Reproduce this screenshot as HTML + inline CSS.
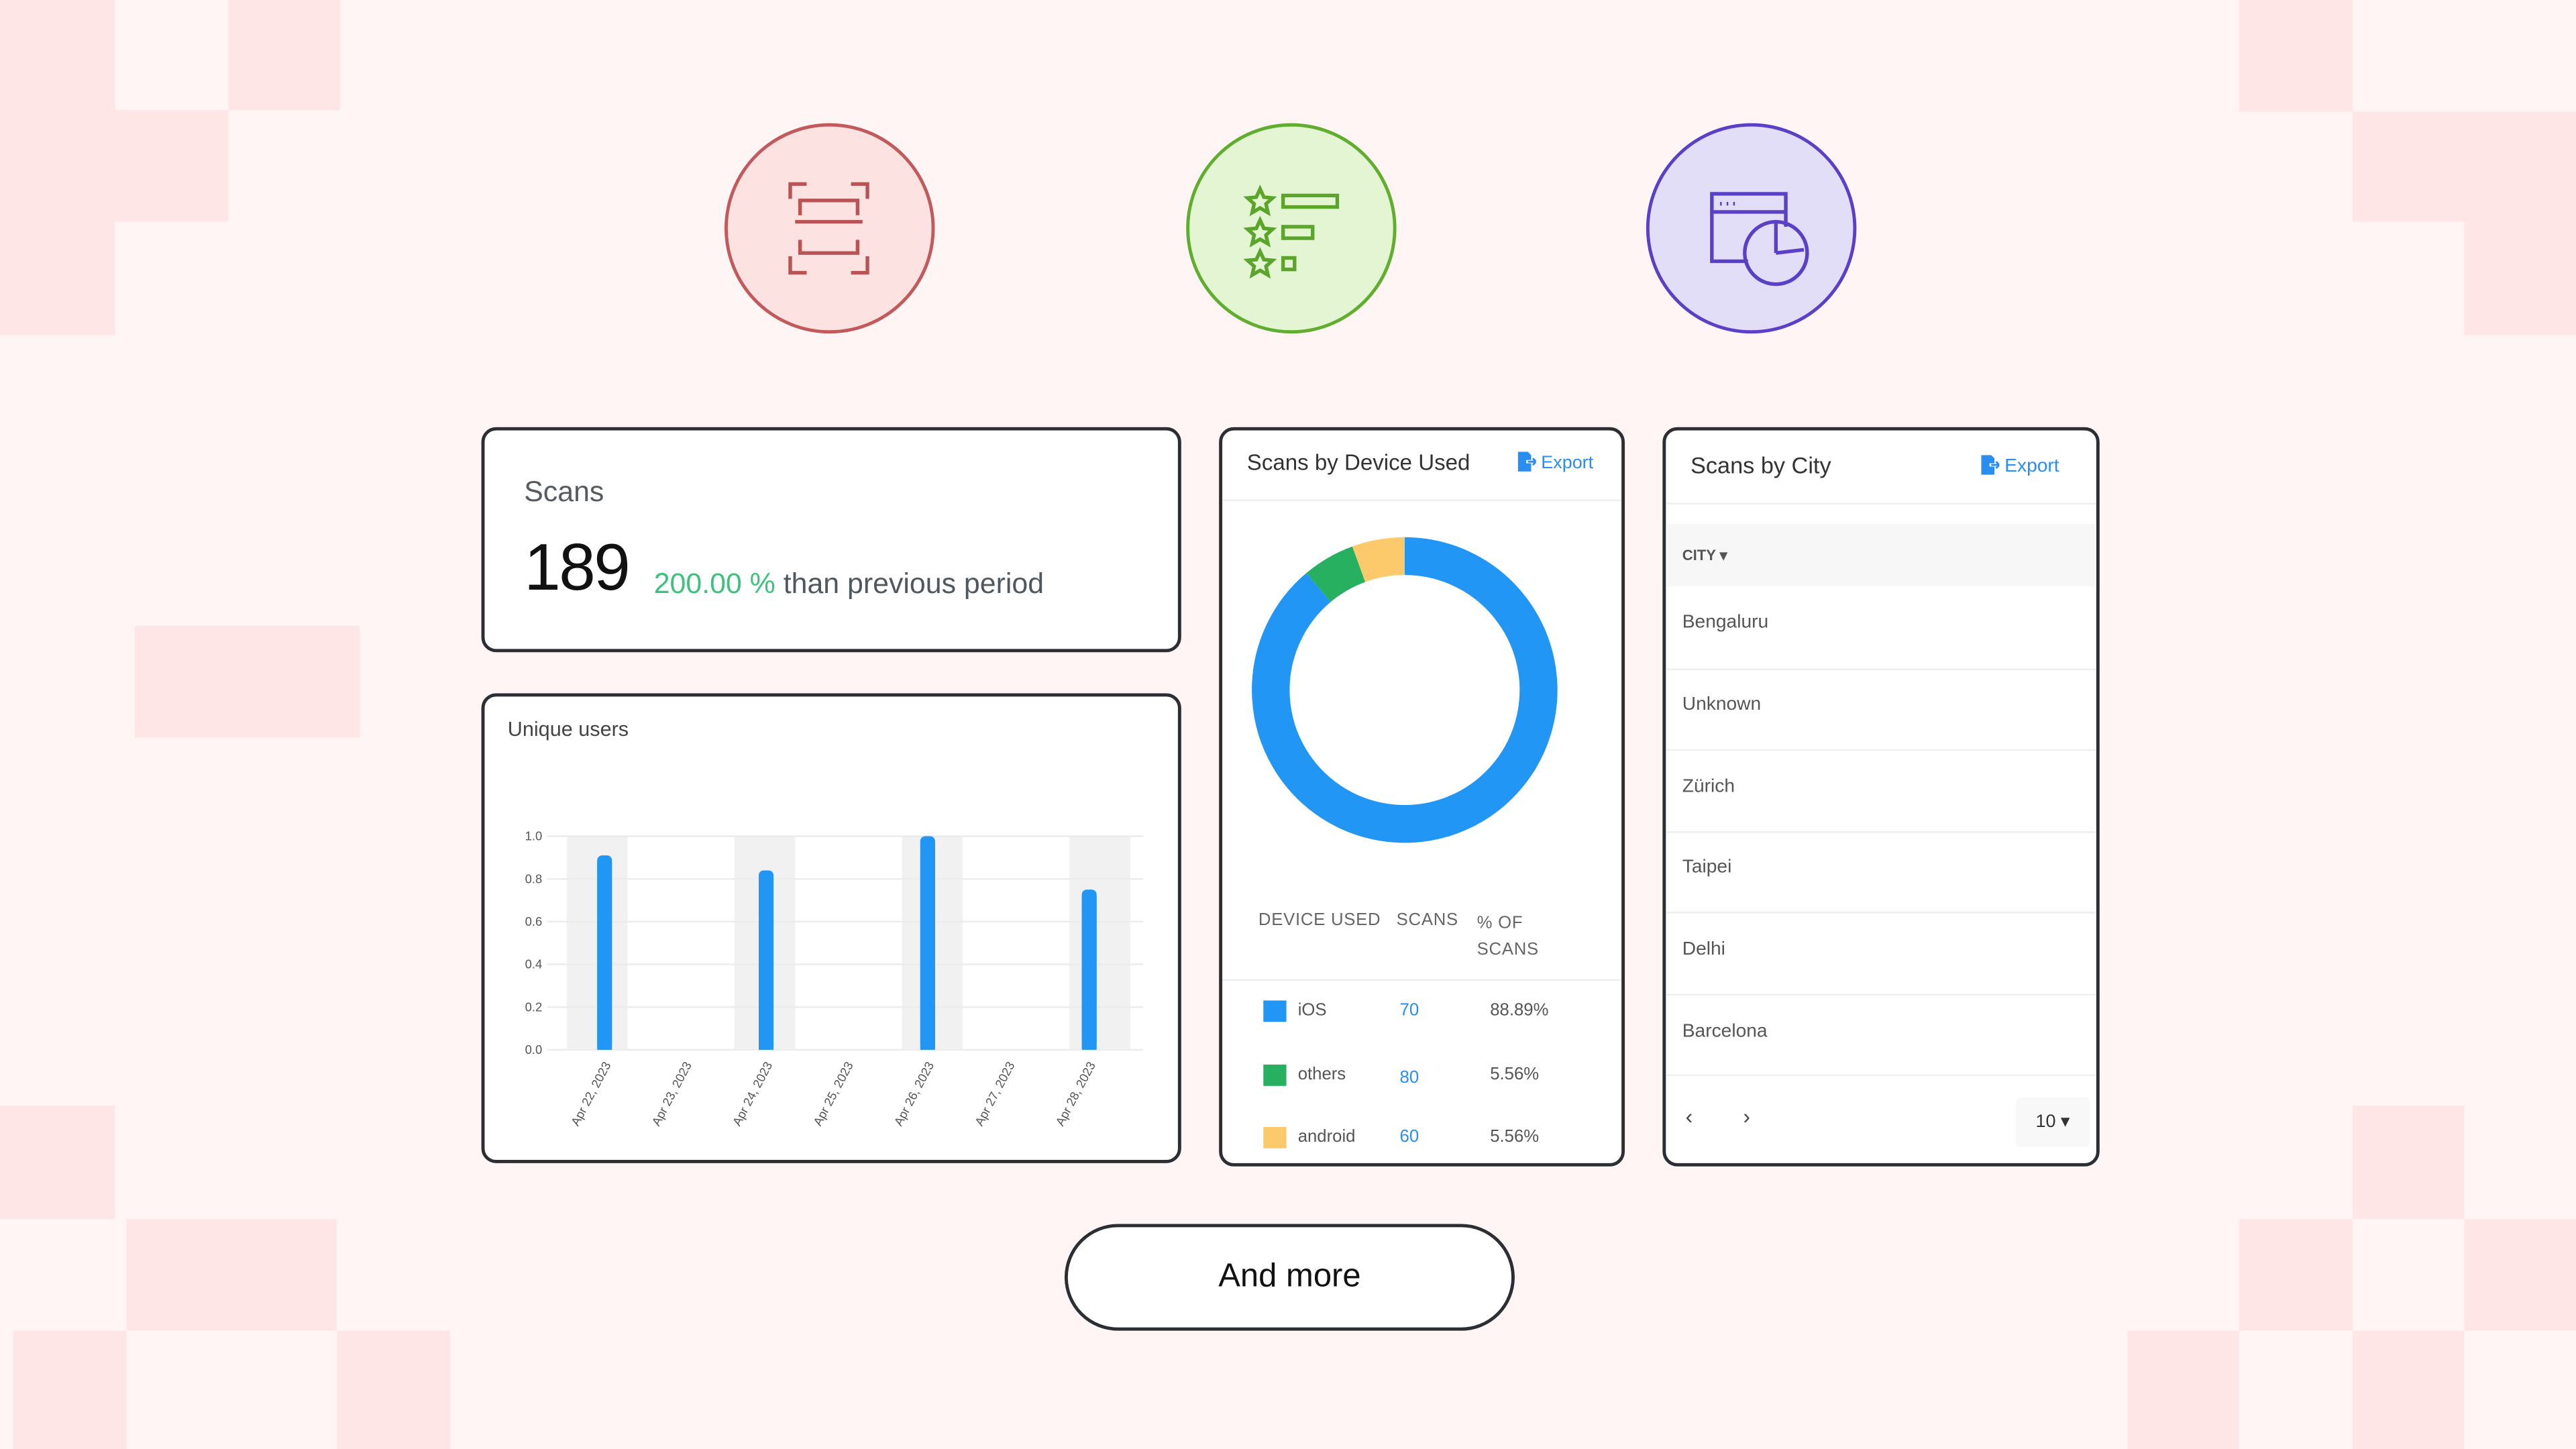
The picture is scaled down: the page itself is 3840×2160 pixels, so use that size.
<!DOCTYPE html>
<html><head><meta charset="utf-8">
<style>
html,body{margin:0;padding:0;width:3840px;height:2159px;overflow:hidden;background:#fff5f5;}
#wrap{position:absolute;left:0;top:0;width:1568px;height:882px;transform:scale(2.44898);transform-origin:0 0;font-family:"Liberation Sans",sans-serif;}
.sq{position:absolute;background:#ffe6e6;}
.card{position:absolute;background:#fff;border:2px solid #2b2f33;border-radius:9px;box-sizing:border-box;overflow:hidden;}
.abs{position:absolute;}
.circle{position:absolute;width:128px;height:128px;border-radius:50%;box-sizing:border-box;}
.city{position:absolute;left:10px;font-size:11.5px;color:#555;}
.sep{position:absolute;left:0;right:0;height:1px;background:#eee;}
</style></head><body>
<div id="wrap">
<div class="sq" style="left:0;top:0;width:70px;height:204px"></div>
<div class="sq" style="left:139px;top:0;width:68px;height:67px"></div>
<div class="sq" style="left:70px;top:67px;width:69px;height:68px"></div>
<div class="sq" style="left:82px;top:381px;width:137px;height:68px"></div>
<div class="sq" style="left:1363px;top:0;width:69px;height:68px"></div>
<div class="sq" style="left:1432px;top:68px;width:136px;height:67px"></div>
<div class="sq" style="left:1500px;top:135px;width:68px;height:69px"></div>
<div class="sq" style="left:0;top:673px;width:70px;height:69px"></div>
<div class="sq" style="left:77px;top:742px;width:128px;height:68px"></div>
<div class="sq" style="left:8px;top:810px;width:69px;height:72px"></div>
<div class="sq" style="left:205px;top:810px;width:69px;height:72px"></div>
<div class="sq" style="left:1432px;top:673px;width:68px;height:69px"></div>
<div class="sq" style="left:1363px;top:742px;width:69px;height:68px"></div>
<div class="sq" style="left:1500px;top:742px;width:68px;height:68px"></div>
<div class="sq" style="left:1295px;top:810px;width:68px;height:72px"></div>
<div class="sq" style="left:1432px;top:810px;width:68px;height:72px"></div>

<div class="circle" style="left:441px;top:75px;background:#fde2e2;border:2.5px solid #c25a5c">
<svg width="123" height="123" viewBox="0 0 123 123" style="position:absolute;left:0;top:0" fill="none" stroke="#b85456" stroke-width="2.2">
<path d="M38 44V35h10M75 35h10v9M38 79v10h10M75 89h10V79M44 54v-9h35v9M41 58h41M44 69v8h35v-8"/></svg></div>
<div class="circle" style="left:722px;top:75px;background:#e3f5d2;border:2.5px solid #5fae2e">
<svg width="123" height="123" viewBox="0 0 123 123" style="position:absolute;left:0;top:0" fill="none" stroke="#5aa52a" stroke-width="2.2">
<path d="M43 38l2.3 5 5.3.5-4 3.6 1.2 5.3-4.8-2.8-4.8 2.8 1.2-5.3-4-3.6 5.3-.5z"/>
<path d="M43 57l2.3 5 5.3.5-4 3.6 1.2 5.3-4.8-2.8-4.8 2.8 1.2-5.3-4-3.6 5.3-.5z"/>
<path d="M43 76l2.3 5 5.3.5-4 3.6 1.2 5.3-4.8-2.8-4.8 2.8 1.2-5.3-4-3.6 5.3-.5z"/>
<rect x="57" y="42" width="33" height="7"/><rect x="57" y="61" width="18" height="7"/><rect x="57" y="80" width="7" height="7"/></svg></div>
<div class="circle" style="left:1002px;top:75px;background:#e3def8;border:2.5px solid #5a3fc8">
<svg width="123" height="123" viewBox="0 0 123 123" style="position:absolute;left:0;top:0" fill="none" stroke="#5a3fc8" stroke-width="2.2">
<path d="M60 82H38V41h45v20M38 52h45"/><path d="M43 47h1M47 47h1M51 47h1"/>
<circle cx="77" cy="77" r="19"/><path d="M77 77V58M77 77l17-2"/></svg></div>

<div class="card" style="left:293px;top:260px;width:426px;height:137px">
<div class="abs" style="left:24px;top:27px;font-size:17.5px;color:#555b61">Scans</div>
<div class="abs" style="left:24px;top:62px;font-size:40px;color:#111;letter-spacing:-1px">189</div>
<div class="abs" style="left:103px;top:83px;font-size:17.5px;color:#50585f;white-space:nowrap"><span style="color:#3cc27a">200.00 %</span> than previous period</div>
</div>

<div class="card" style="left:293px;top:422px;width:426px;height:286px">
<div class="abs" style="left:14px;top:13px;font-size:12.5px;color:#444">Unique users</div>
<svg id="bar" width="426" height="286" style="position:absolute;left:-2px;top:-2px"></svg>
</div>

<div class="card" style="left:742px;top:260px;width:247px;height:450px">
<div class="abs" style="left:15px;top:12px;font-size:13.5px;color:#333">Scans by Device Used</div>
<div class="abs" style="left:179px;top:13px;font-size:11px;color:#2a8df0">
<svg width="12" height="12" viewBox="0 0 12 12" style="vertical-align:-2px"><path d="M1 0h6l2 2v3H6v2h3v5H1z" fill="#2a8df0"/><path d="M7 6h5M10 4l2 2-2 2" stroke="#2a8df0" stroke-width="1.2" fill="none"/></svg> Export</div>
<div class="sep" style="top:42px;background:#eee"></div>
<svg id="donut" width="247" height="280" style="position:absolute;left:-2px;top:-2px"></svg>
<div class="abs" style="left:22px;top:292px;font-size:10.5px;color:#666;letter-spacing:.3px">DEVICE USED</div>
<div class="abs" style="left:106px;top:292px;font-size:10.5px;color:#666;letter-spacing:.3px">SCANS</div>
<div class="abs" style="left:155px;top:292px;font-size:10.5px;color:#666;line-height:16px;letter-spacing:.3px">% OF<br>SCANS</div>
<div class="sep" style="top:334px"></div>
<div id="legend"></div>
</div>

<div class="card" style="left:1012px;top:260px;width:266px;height:450px">
<div class="abs" style="left:15px;top:13px;font-size:14px;color:#333">Scans by City</div>
<div class="abs" style="left:191px;top:15px;font-size:11.5px;color:#2a8df0">
<svg width="12" height="12" viewBox="0 0 12 12" style="vertical-align:-2px"><path d="M1 0h6l2 2v3H6v2h3v5H1z" fill="#2a8df0"/><path d="M7 6h5M10 4l2 2-2 2" stroke="#2a8df0" stroke-width="1.2" fill="none"/></svg> Export</div>
<div class="sep" style="top:44px"></div>
<div class="abs" style="left:0;right:0;top:57px;height:38px;background:#f7f7f7">
<div class="abs" style="left:10px;top:14px;font-size:9px;font-weight:bold;color:#555">CITY ▾</div></div>
<div class="city" style="top:111px">Bengaluru</div>
<div class="sep" style="top:145px"></div>
<div class="city" style="top:161px">Unknown</div>
<div class="sep" style="top:194px"></div>
<div class="city" style="top:211px">Zürich</div>
<div class="sep" style="top:244px"></div>
<div class="city" style="top:260px">Taipei</div>
<div class="sep" style="top:293px"></div>
<div class="city" style="top:310px">Delhi</div>
<div class="sep" style="top:343px"></div>
<div class="city" style="top:360px">Barcelona</div>
<div class="sep" style="top:392px"></div>
<div class="abs" style="left:12px;top:410px;font-size:13px;color:#444">‹</div>
<div class="abs" style="left:47px;top:410px;font-size:13px;color:#444">›</div>
<div class="abs" style="left:213px;top:406px;width:45px;height:30px;background:#f8f8f8;border-radius:3px;font-size:11px;color:#333;line-height:30px;text-align:center">10 ▾</div>
</div>

<div class="abs" style="left:648px;top:745px;width:274px;height:65px;box-sizing:border-box;border:2px solid #2b2f33;border-radius:33px;background:#fff;text-align:center;line-height:61px;font-size:20px;color:#111">And more</div>
</div>

<script>
const dates=["Apr 22, 2023","Apr 23, 2023","Apr 24, 2023","Apr 25, 2023","Apr 26, 2023","Apr 27, 2023","Apr 28, 2023"];
const users=[0.91,0,0.84,0,1.0,0,0.75];
const yTicks=[0,0.2,0.4,0.6,0.8,1.0];
const devices=["iOS","others","android"];
const deviceScans=[70,80,60];
const devicePct=[88.89,5.56,5.56];
const deviceColors=["#2196f5","#27b05f","#fdca6b"];

const NS="http://www.w3.org/2000/svg";
function mk(p,t,a){const e=document.createElementNS(NS,t);for(const k in a)e.setAttribute(k,a[k]);p.appendChild(e);return e;}

const bar=document.getElementById('bar');
const ox=293,oy=422;
const x0=345-ox,step=51,bw=37;
const yB=639-oy,yT=509-oy;
const ys=v=>yB-(v/1.0)*(yB-yT);
const xc=i=>x0+bw/2+i*step;
const xb=i=>366-ox+2+i*(661-366)/(dates.length-1);
dates.forEach((d,i)=>{if(i%2===0){const r=mk(bar,'rect',{x:xc(i)-bw/2,y:yT,width:bw,height:yB-yT,fill:'#f1f1f1'});

}});
yTicks.forEach(t=>{const l=mk(bar,'line',{x1:333-ox,x2:696-ox,y1:ys(t),y2:ys(t),stroke:'#ececec','stroke-width':1});


const tx=mk(bar,'text',{x:330-ox,y:ys(t)+2.5,'font-size':7.5,fill:'#555','text-anchor':'end','font-family':'Liberation Sans'});tx.textContent=t.toFixed(1);

});
users.forEach((v,i)=>{if(v<=0)return;const h=yB-ys(v);const b=mk(bar,'rect',{x:xb(i)-4.5,y:ys(v),width:9,height:h,rx:3,fill:'#2196f5'});


mk(bar,'rect',{x:xb(i)-4.5,y:ys(v)+4,width:9,height:h-4,fill:'#2196f5'});});
dates.forEach((d,i)=>{const t=mk(bar,'text',{transform:`translate(${xb(i)+4},${yB+9}) rotate(-62)`,'font-size':7.5,fill:'#555','text-anchor':'end','font-family':'Liberation Sans'});t.textContent=d;

});

const dn=document.getElementById('donut');
const cx=855-742,cy=420-260,R=81.5,sw=23;
const total=devicePct.reduce((a,b)=>a+b,0);
let ang=0;
devicePct.forEach((p,i)=>{const a0=ang,a1=ang+p/total*2*Math.PI;ang=a1;
const s=[cx+R*Math.sin(a0),cy-R*Math.cos(a0)],e=[cx+R*Math.sin(a1),cy-R*Math.cos(a1)];
const large=(a1-a0)>Math.PI?1:0;
const path=mk(dn,'path',{d:`M${s[0]} ${s[1]}A${R} ${R} 0 ${large} 1 ${e[0]} ${e[1]}`,fill:'none',stroke:deviceColors[i],'stroke-width':sw});

});

const lg=document.getElementById('legend');
const rowY=[614,653,691];
devices.forEach((d,i)=>{const y=rowY[i]-260-9;
const row=document.createElement('div');row.style.cssText=`position:absolute;left:0;top:${y}px;width:247px;height:18px;font-size:10.5px;color:#555`;


row.innerHTML=`<div style="position:absolute;left:25px;top:2px;width:14px;height:13px;background:${deviceColors[i]}"></div><div style="position:absolute;left:46px;top:2px">${d}</div><div style="position:absolute;left:108px;top:${i==1?4:2}px;color:#2a8df0">${deviceScans[i]}</div><div style="position:absolute;left:163px;top:2px">${devicePct[i].toFixed(2)}%</div>`;
lg.appendChild(row);});
</script>
</body></html>
